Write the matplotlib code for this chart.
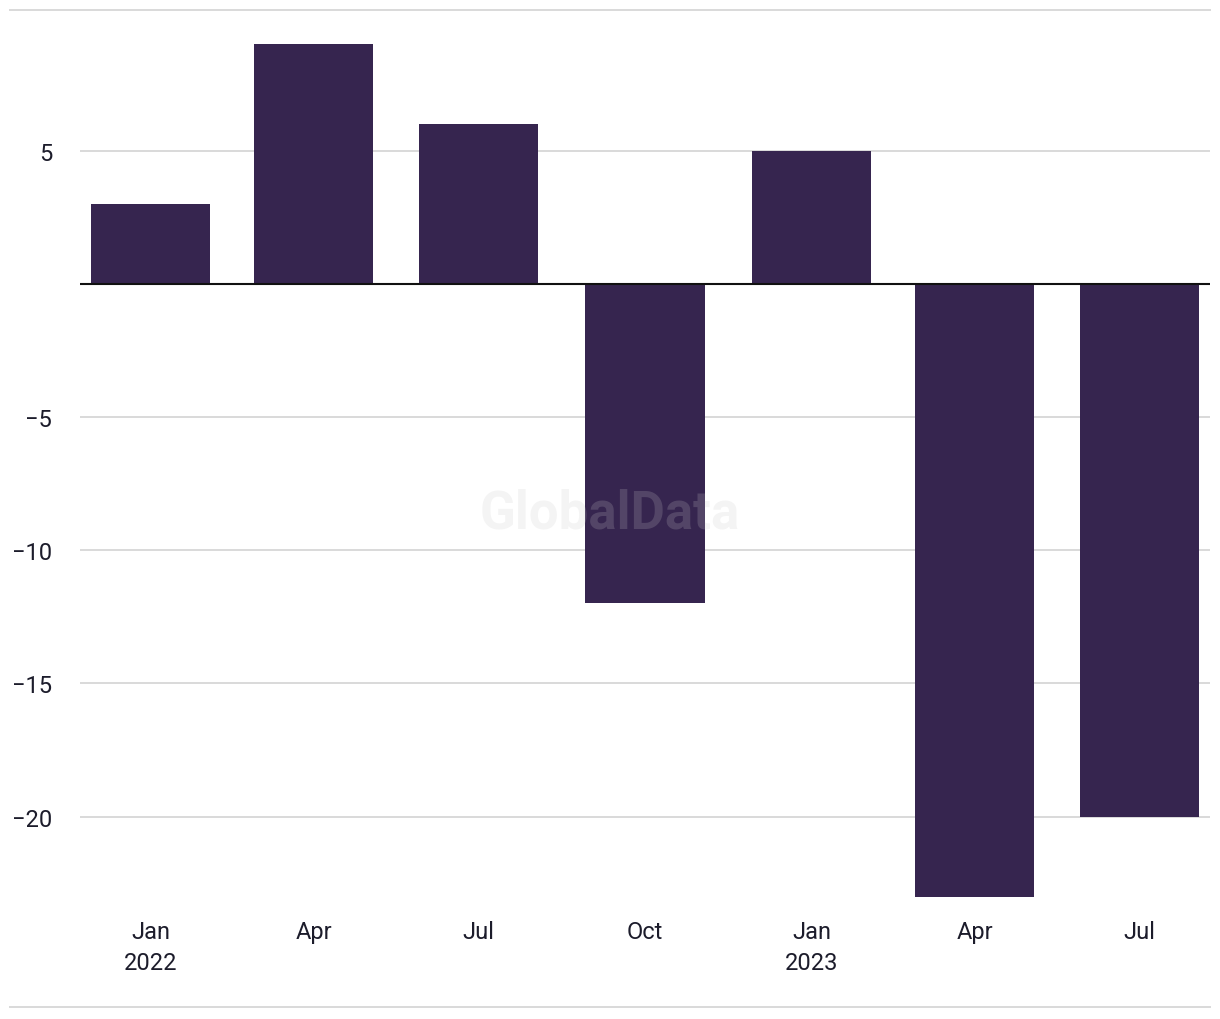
import matplotlib
matplotlib.use('Agg')
import matplotlib.pyplot as plt
from matplotlib.lines import Line2D
from datetime import datetime, timedelta

# quarterly values
dates = [datetime(2022, 1, 1), datetime(2022, 4, 1), datetime(2022, 7, 1),
         datetime(2022, 10, 1), datetime(2023, 1, 1), datetime(2023, 4, 1),
         datetime(2023, 7, 1)]
values = [3, 9, 6, -12, 5, -23, -20]
tick_labels = ['Jan\n2022', 'Apr', 'Jul', 'Oct', 'Jan\n2023', 'Apr', 'Jul']
y_ticks = [-20, -15, -10, -5, 5]

bar_color = '#36254f'
text_color = '#1c1c2b'
grid_color = '#d9d9d9'

plt.rcParams['font.family'] = ['Roboto', 'DejaVu Sans']

fig = plt.figure(figsize=(12.2, 10.2), dpi=100)
ax = fig.add_axes([80 / 1220, 1 - 905.5 / 1020, 1130 / 1220, 894.5 / 1020])

ax.bar(dates, values, width=66, color=bar_color, zorder=2)
ax.axhline(0, color='#111111', lw=1.5, zorder=3)

ax.set_xlim(dates[0] - timedelta(days=39), dates[0] + timedelta(days=585))
ax.set_ylim(-23.3, 10.28)

ax.set_xticks(dates)
ax.set_xticklabels(tick_labels, linespacing=1.45)
ax.set_yticks(y_ticks)
ax.yaxis.grid(True, color=grid_color, lw=1.4, zorder=0)
ax.set_axisbelow(True)

for s in ax.spines.values():
    s.set_visible(False)
ax.tick_params(axis='both', length=0, labelsize=17, colors=text_color)
ax.tick_params(axis='y', pad=20)
ax.tick_params(axis='x', pad=11)
for lab in ax.get_yticklabels():
    lab.set_horizontalalignment('right')

# watermark
ax.text(0.469, 0.438, 'GlobalData', transform=ax.transAxes, ha='center', va='center',
        fontsize=38, fontweight='bold', color='#c8c8c8', alpha=0.2, zorder=5)

# top and bottom rules
fig.add_artist(Line2D([10 / 1220, 1210 / 1220], [1 - 11 / 1020, 1 - 11 / 1020],
                      color=grid_color, lw=1.4, transform=fig.transFigure))
fig.add_artist(Line2D([10 / 1220, 1210 / 1220], [1 - 1008 / 1020, 1 - 1008 / 1020],
                      color=grid_color, lw=1.4, transform=fig.transFigure))

fig.savefig('out.png', dpi=100)
